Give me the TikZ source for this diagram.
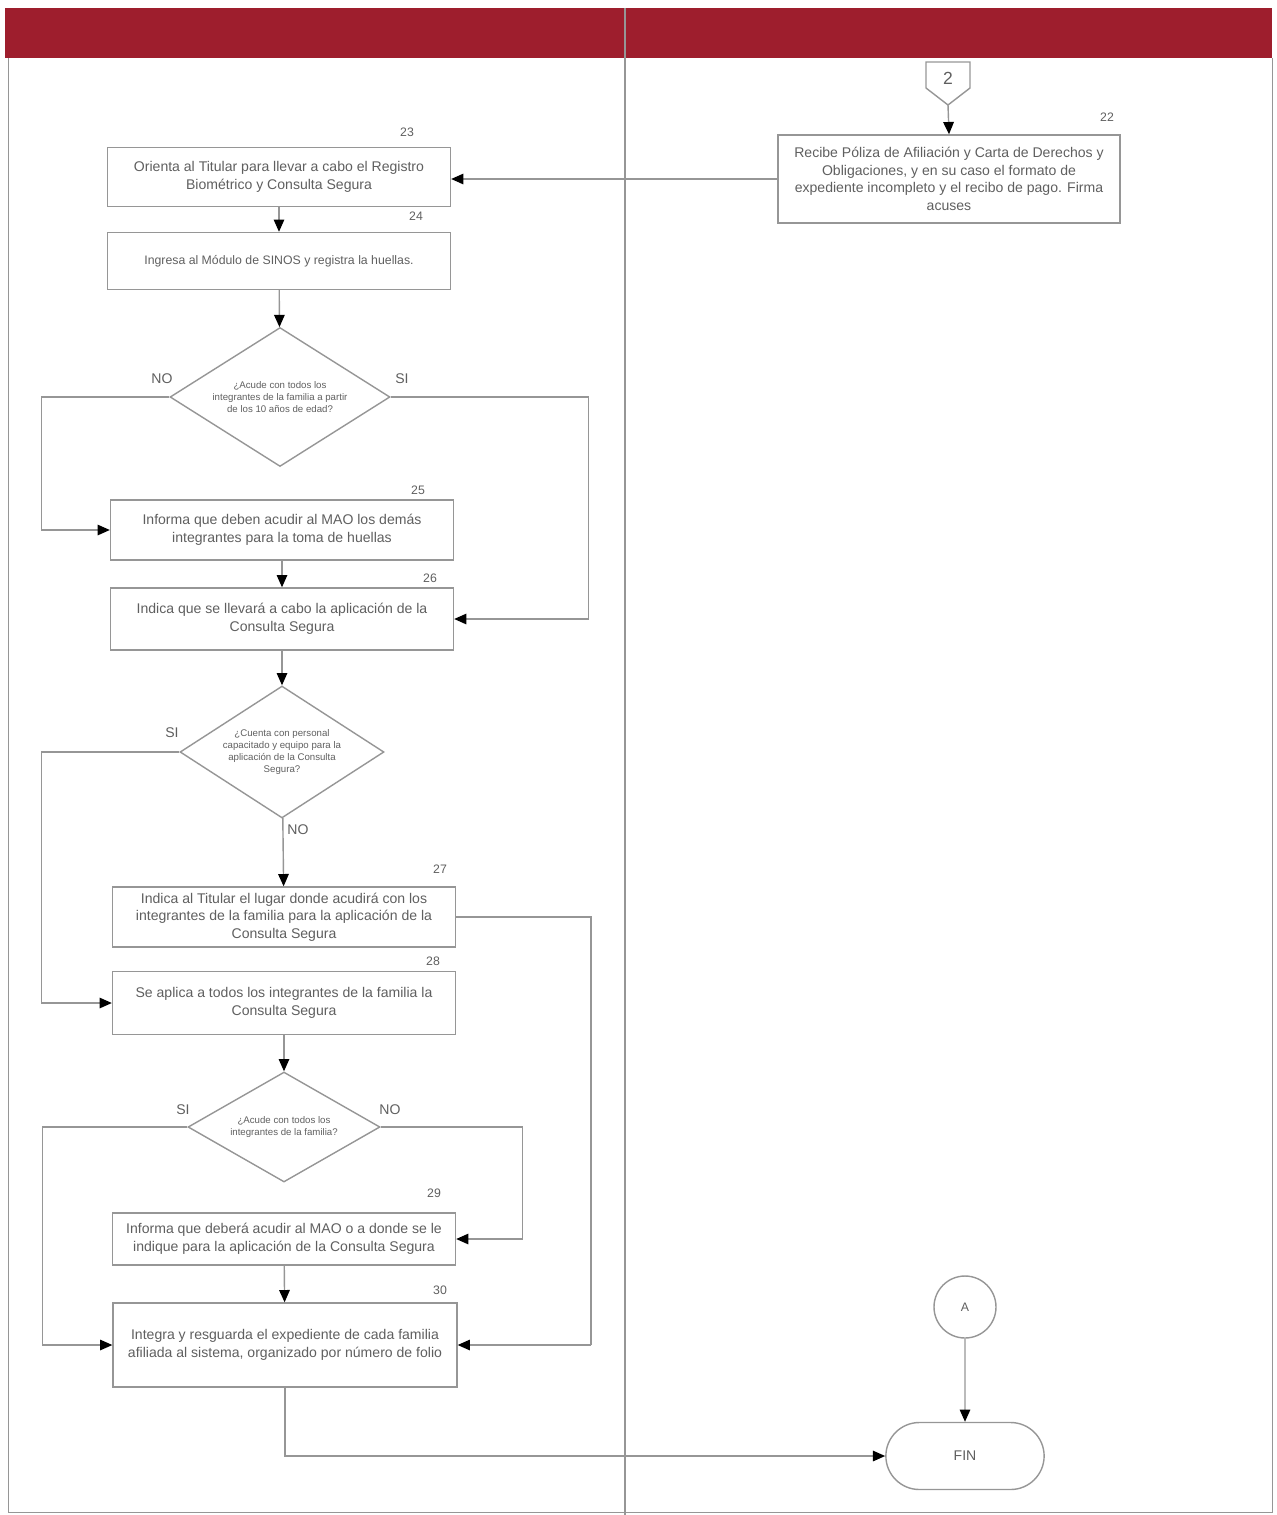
\documentclass[tikz,border=0pt]{standalone}
\usepackage{fontspec}
\setmainfont{Liberation Sans}
\usetikzlibrary{arrows.meta,shapes.geometric,shapes.misc}
\definecolor{banda}{RGB}{158,30,45}
\definecolor{trazo}{RGB}{150,150,150}
\definecolor{letra}{RGB}{95,95,95}
\tikzset{
  paso/.style={draw=trazo,thick,text=letra,align=center,
    minimum width=6.86cm,inner sep=2pt,font=\fontsize{8}{10}\selectfont},
  decide/.style={draw=trazo,thick,diamond,text=letra,align=center,inner sep=0pt,
    font=\fontsize{5.5}{7}\selectfont},
  num/.style={text=letra,font=\fontsize{7}{8}\selectfont},
  resp/.style={text=letra,font=\fontsize{8}{9}\selectfont},
  flujo/.style={draw=trazo,thick,-{Triangle[length=7pt,width=6pt,fill=black,color=black]}}
}
\begin{document}
\begin{tikzpicture}[x=0.02cm,y=-0.02cm]
\useasboundingbox (0,0) rectangle (1277,1515);
% Encabezado
\fill[banda] (5,8) rectangle (1272,58);
\draw[trazo] (8,58) -- (8,1512) -- (1272,1512) -- (1272,58);
\draw[trazo,thick] (625,8) -- (625,1515);
% Conector 2
\draw[trazo,thick] (926,62) -- (970,62) -- (970,88) -- (948,105) -- (926,88) -- cycle;
\node[resp,font=\fontsize{10}{11}\selectfont] (c2) at (948,78) {2};
\coordinate (c2p) at (948,105);
% Cajas
\node[paso,minimum width=6.84cm,minimum height=1.76cm] (b22) at (949,179)
  {Recibe Póliza de Afiliación y Carta de Derechos y\\ Obligaciones, y en su caso el formato de\\ expediente incompleto y el recibo de pago. Firma\\ acuses};
\node[paso,minimum height=1.18cm] (b23) at (279,177)
  {Orienta al Titular para llevar a cabo el Registro\\ Biométrico y Consulta Segura};
\node[paso,minimum height=1.14cm,font=\fontsize{7}{8}\selectfont] (b24) at (279,261)
  {Ingresa al Módulo de SINOS y registra la huellas.};
\node[decide,minimum width=4.4cm,minimum height=2.78cm,shape aspect=1.58] (d1) at (280,397)
  {¿Acude con todos los\\ integrantes de la familia a partir\\ de los 10 años de edad?};
\node[paso,minimum height=1.2cm] (b25) at (282,530)
  {Informa que deben acudir al MAO los demás\\ integrantes para la toma de huellas};
\node[paso,minimum height=1.24cm] (b26) at (282,619)
  {Indica que se llevará a cabo la aplicación de la\\ Consulta Segura};
\node[decide,minimum width=4.08cm,minimum height=2.64cm,shape aspect=1.55] (d2) at (282,752)
  {¿Cuenta con personal\\ capacitado y equipo para la\\ aplicación de la Consulta\\ Segura?};
\node[paso,minimum height=1.2cm] (b27) at (284,917)
  {Indica al Titular el lugar donde acudirá con los\\ integrantes de la familia para la aplicación de la\\ Consulta Segura};
\node[paso,minimum height=1.26cm] (b28) at (284,1003)
  {Se aplica a todos los integrantes de la familia la\\ Consulta Segura};
\node[decide,minimum width=3.84cm,minimum height=2.2cm,shape aspect=1.75] (d3) at (284,1127)
  {¿Acude con todos los\\ integrantes de la familia?};
\node[paso,minimum height=1.04cm] (b29) at (284,1239)
  {Informa que deberá acudir al MAO o a donde se le\\ indique para la aplicación de la Consulta Segura};
\node[paso,minimum width=6.88cm,minimum height=1.68cm] (b30) at (285,1345)
  {Integra y resguarda el expediente de cada familia\\ afiliada al sistema, organizado por número de folio};
% Conector A y fin
\node[draw=trazo,thick,circle,minimum size=1.24cm,text=letra,font=\fontsize{7}{8}\selectfont] (ca) at (965,1307) {A};
\node[draw=trazo,thick,rounded rectangle,minimum width=3.4cm,minimum height=1.34cm,text=letra,
  font=\fontsize{8}{9}\selectfont] (fin) at (965,1456) {FIN};
% Numeros
\node[num] (n22) at (1107,117) {22};
\node[num] (n23) at (407,132) {23};
\node[num] (n24) at (416,216) {24};
\node[num] (n25) at (418,490) {25};
\node[num] (n26) at (430,578) {26};
\node[num] (n27) at (440,869) {27};
\node[num] (n28) at (433,961) {28};
\node[num] (n29) at (434,1193) {29};
\node[num] (n30) at (440,1290) {30};
% Respuestas
\node[resp] (r1no) at (162,379) {NO};
\node[resp] (r1si) at (402,379) {SI};
\node[resp] (r2si) at (172,733) {SI};
\node[resp] (r2no) at (298,830) {NO};
\node[resp] (r3si) at (183,1110) {SI};
\node[resp] (r3no) at (390,1110) {NO};
% Flechas
\draw[flujo] (c2p) -- (b22.north);
\draw[flujo] (b22.west) -- (b22.west -| b23.east);
\draw[flujo] (b23) -- (b24);
\draw[flujo] (b24) -- (d1);
\draw[flujo] (d1.west) -- ++(-128,0) |- (b25.west);
\draw[flujo] (d1.east) -- ++(198,0) |- (b26.east);
\draw[flujo] (b25) -- (b26);
\draw[flujo] (b26) -- (d2);
\draw[flujo] (d2.west) -- ++(-138,0) |- (b28.west);
\draw[flujo] (d2) -- (b27);
\draw[draw=trazo,thick] (b27.east) -- ++(135,0) coordinate (e27) -- (e27 |- b30.east);
\draw[flujo] (e27 |- b30.east) -- (b30.east);
\draw[flujo] (b28) -- (d3);
\draw[flujo] (d3.west) -- ++(-145,0) |- (b30.west);
\draw[flujo] (d3.east) -- ++(142,0) |- (b29.east);
\draw[flujo] (b29) -- (b30);
\draw[flujo] (b30.south) |- (fin.west);
\draw[flujo] (ca) -- (fin);
\end{tikzpicture}
\end{document}
